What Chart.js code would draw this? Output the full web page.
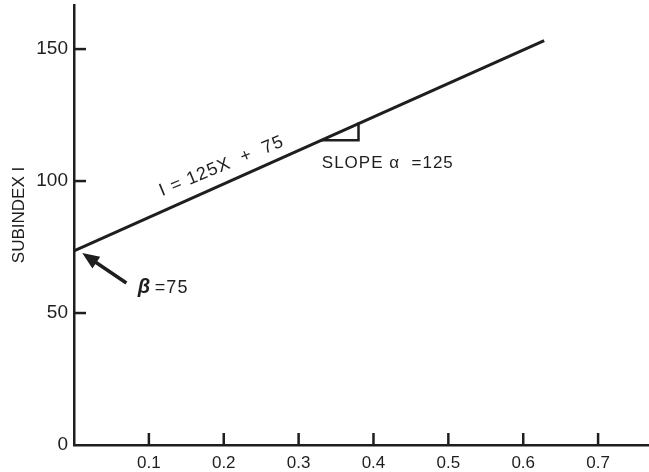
<!DOCTYPE html>
<html>
<head>
<meta charset="utf-8">
<script src="https://cdn.jsdelivr.net/npm/chart.js@4"></script>
<style>
  html, body { margin: 0; padding: 0; background: #fff; }
  #wrap { width: 649px; height: 472px; }
</style>
</head>
<body>
<div id="wrap"><canvas id="myChart"></canvas></div>
<script>
// データ
const xValues = [0, 0.628];        // 汚染物質濃度 X
const iValues = [73.5, 153.2];     // I = 125X + 75（図から読んだ値）
const slopeX = [0.33, 0.38, 0.38]; // 傾きを示す小さな三角形
const slopeY = [115.5, 115.5, 122.2];
const xTicks = [0.1, 0.2, 0.3, 0.4, 0.5, 0.6, 0.7];
const yTicks = [0, 50, 100, 150];
const xMax = 0.768;
const yMax = 166.7;

const ink = "#1e1e1e";
const fontName = "'Liberation Sans', Arial, sans-serif";

// 注記（矢印・文字・内向きの目盛り）を描くプラグイン
const notePlugin = {
    id: "notes",
    afterDraw(chart) {
        const ctx = chart.ctx;
        const xs = chart.scales.x;
        const ys = chart.scales.y;
        const px = (v) => xs.getPixelForValue(v);
        const py = (v) => ys.getPixelForValue(v);
        ctx.save();
        ctx.strokeStyle = ink;
        ctx.fillStyle = ink;

        // 内向きの目盛り
        ctx.lineWidth = 2.5;
        xTicks.forEach((v) => {
            ctx.beginPath();
            ctx.moveTo(px(v), py(0));
            ctx.lineTo(px(v), py(0) - 12);
            ctx.stroke();
        });
        yTicks.filter((v) => v > 0).forEach((v) => {
            ctx.beginPath();
            ctx.moveTo(px(0), py(v));
            ctx.lineTo(px(0) + 12, py(v));
            ctx.stroke();
        });

        // 縦軸タイトル
        ctx.save();
        ctx.translate(19, (ys.top + ys.bottom) / 2 - 10);
        ctx.rotate(-Math.PI / 2);
        ctx.font = "17px " + fontName;
        ctx.textAlign = "center";
        ctx.textBaseline = "middle";
        ctx.fillText("SUBINDEX I", 0, 0);
        ctx.restore();

        // 直線の式（線に沿って回転）
        const ang = Math.atan2(py(iValues[1]) - py(iValues[0]), px(xValues[1]) - px(xValues[0]));
        const mx = 0.206;
        const my = iValues[0] + (iValues[1] - iValues[0]) * mx / xValues[1];
        ctx.save();
        ctx.translate(px(mx), py(my));
        ctx.rotate(ang + 0.03);
        ctx.font = "18px " + fontName;
        ctx.textAlign = "center";
        ctx.textBaseline = "bottom";
        if ("letterSpacing" in ctx) ctx.letterSpacing = "1px";
        ctx.fillText("I = 125X  +  75", 0, -8);
        ctx.restore();

        // 傾き
        ctx.font = "17px " + fontName;
        ctx.textAlign = "left";
        ctx.textBaseline = "middle";
        if ("letterSpacing" in ctx) ctx.letterSpacing = "1px";
        ctx.fillText("SLOPE α  =125", px(0.331), py(106.6));

        // β
        ctx.font = "italic bold 20px " + fontName;
        ctx.fillText("β", px(0.085), py(59.6));
        ctx.font = "18px " + fontName;
        ctx.fillText("=75", px(0.108), py(59.6));
        if ("letterSpacing" in ctx) ctx.letterSpacing = "0px";

        // 矢印
        const tx = px(0.011), ty = py(72.7);
        const sx = px(0.070), sy = py(61.4);
        const a = Math.atan2(ty - sy, tx - sx);
        ctx.lineWidth = 3.5;
        ctx.beginPath();
        ctx.moveTo(sx, sy);
        ctx.lineTo(tx - 10 * Math.cos(a), ty - 10 * Math.sin(a));
        ctx.stroke();
        ctx.beginPath();
        ctx.moveTo(tx, ty);
        ctx.lineTo(tx - 17 * Math.cos(a) + 7 * Math.sin(a), ty - 17 * Math.sin(a) - 7 * Math.cos(a));
        ctx.lineTo(tx - 17 * Math.cos(a) - 7 * Math.sin(a), ty - 17 * Math.sin(a) + 7 * Math.cos(a));
        ctx.closePath();
        ctx.fill();

        ctx.restore();
    },
};

// グラフを表示する
const ctx = document.getElementById("myChart");
const myChart = new Chart(ctx, {
    type: "line",
    data: {
        datasets: [
            {
                data: xValues.map((x, i) => ({ x, y: iValues[i] })),
                borderColor: ink,
                borderWidth: 3,
                pointRadius: 0,
                fill: false,
            },
            {
                data: slopeX.map((x, i) => ({ x, y: slopeY[i] })),
                borderColor: ink,
                borderWidth: 2.5,
                pointRadius: 0,
                fill: false,
            },
        ],
    },
    options: {
        responsive: true,
        maintainAspectRatio: false,
        animation: false,
        layout: { padding: { top: 5, right: 0, left: 0, bottom: 0 } },
        plugins: { legend: { display: false }, tooltip: { enabled: false } },
        scales: {
            x: {
                type: "linear",
                min: 0,
                max: xMax,
                afterBuildTicks: (s) => { s.ticks = xTicks.map((v) => ({ value: v })); },
                afterFit: (s) => { s.height = 27; s.paddingLeft = 0; s.paddingRight = 0; },
                grid: { display: false, drawTicks: false },
                border: { display: true, color: ink, width: 2.5 },
                ticks: {
                    color: ink,
                    padding: 8,
                    maxRotation: 0,
                    font: { family: fontName, size: 17 },
                    callback: (v) => v.toFixed(1),
                },
            },
            y: {
                type: "linear",
                min: 0,
                max: yMax,
                afterBuildTicks: (s) => { s.ticks = yTicks.map((v) => ({ value: v })); },
                afterFit: (s) => { s.width = 74; s.paddingTop = 0; s.paddingBottom = 0; },
                grid: { display: false, drawTicks: false },
                border: { display: true, color: ink, width: 2.5 },
                ticks: {
                    color: ink,
                    padding: 6,
                    font: { family: fontName, size: 19 },
                },
                title: { display: false },
            },
        },
    },
    plugins: [notePlugin],
});
</script>
</body>
</html>
